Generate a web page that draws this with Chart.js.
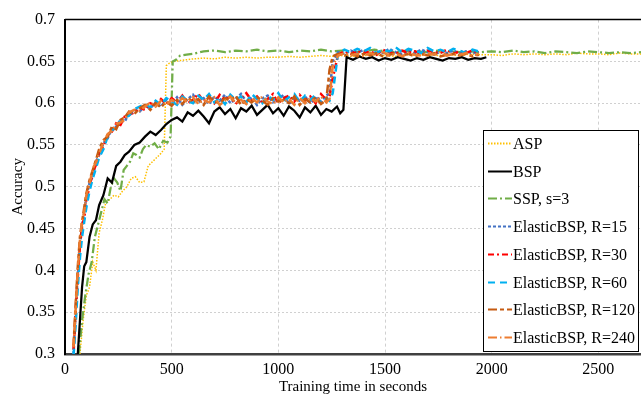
<!DOCTYPE html>
<html>
<head>
<meta charset="utf-8">
<title>Accuracy vs training time</title>
<script src="https://cdn.jsdelivr.net/npm/chart.js@4.4.1/dist/chart.umd.min.js"></script>
<style>
    html, body { margin: 0; padding: 0; background: #fff; }
    #chart { display: block; }
</style>
</head>
<body>
<canvas id="chart" width="641" height="396"></canvas>
<script>
// Time points (seconds) for each group of runs
var elasticTime = [40, 50, 60, 70, 80, 90, 100, 115, 130, 145,
    160, 180, 200, 220, 240, 260, 280, 300, 325, 350,
    375, 400, 425, 450, 475, 500, 525, 550, 575, 600,
    625, 650, 675, 700, 725, 750, 775, 800, 825, 850,
    875, 900, 925, 950, 975, 1000, 1025, 1050, 1075, 1100,
    1125, 1150, 1175, 1200, 1225, 1240, 1255, 1280, 1310, 1340,
    1370, 1400, 1430, 1460, 1490, 1520, 1550, 1580, 1610, 1640,
    1670, 1700, 1730, 1760, 1790, 1820, 1850, 1880, 1910, 1940];

var bspTime = [60, 70, 80, 90, 100, 115, 130, 145, 160, 180,
    200, 220, 240, 260, 280, 300, 325, 350, 375, 400,
    425, 450, 475, 500, 525, 550, 575, 600, 625, 650,
    675, 700, 725, 750, 775, 800, 825, 850, 875, 900,
    925, 950, 975, 1000, 1025, 1050, 1075, 1100, 1125, 1150,
    1175, 1200, 1225, 1250, 1275, 1290, 1305, 1320, 1350, 1380,
    1410, 1440, 1470, 1500, 1530, 1560, 1590, 1620, 1650, 1680,
    1710, 1740, 1770, 1800, 1830, 1860, 1890, 1920, 1950, 1975];

var aspTime = [70, 85, 100, 115, 130, 145, 160, 175, 190, 210,
    230, 250, 270, 290, 310, 330, 350, 370, 390, 410,
    430, 450, 465, 475, 490, 510, 540, 570, 600, 650,
    700, 750, 800, 850, 900, 950, 1000, 1050, 1100, 1150,
    1200, 1250, 1300, 1350, 1400, 1450, 1500, 1550, 1600, 1650,
    1700, 1750, 1800, 1850, 1900, 1950, 2000, 2050, 2100, 2150,
    2200, 2250, 2300, 2350, 2400, 2450, 2500, 2550, 2600, 2650, 2700];

var sspTime = [65, 80, 95, 110, 125, 140, 155, 170, 185, 200,
    215, 230, 245, 260, 275, 290, 305, 320, 335, 350,
    365, 380, 400, 420, 440, 460, 480, 495, 505, 520,
    540, 570, 600, 650, 700, 750, 800, 850, 900, 950,
    1000, 1050, 1100, 1150, 1200, 1250, 1300, 1350, 1400, 1450,
    1500, 1550, 1600, 1650, 1700, 1750, 1800, 1850, 1900, 1950,
    2000, 2050, 2100, 2150, 2200, 2250, 2300, 2350, 2400, 2450,
    2500, 2550, 2600, 2650, 2700];

// Accuracy values
var aspAcc = [0.300, 0.340, 0.370, 0.380, 0.410, 0.400, 0.445, 0.460, 0.480, 0.485,
    0.490, 0.488, 0.495, 0.500, 0.510, 0.512, 0.505, 0.506, 0.525, 0.530,
    0.535, 0.540, 0.545, 0.645, 0.648, 0.650, 0.651, 0.652, 0.653, 0.654,
    0.653, 0.655, 0.654, 0.655, 0.654, 0.655, 0.655, 0.656, 0.655, 0.656,
    0.657, 0.656, 0.657, 0.656, 0.657, 0.658, 0.657, 0.656, 0.658, 0.657,
    0.658, 0.657, 0.658, 0.657, 0.659, 0.658, 0.658, 0.657, 0.659, 0.658,
    0.659, 0.658, 0.659, 0.658, 0.660, 0.659, 0.659, 0.658, 0.660, 0.659, 0.659];

var bspAcc = [0.300, 0.340, 0.380, 0.405, 0.410, 0.440, 0.455, 0.460, 0.478, 0.490,
    0.510, 0.505, 0.525, 0.530, 0.538, 0.542, 0.550, 0.553, 0.560, 0.566,
    0.562, 0.568, 0.575, 0.580, 0.583, 0.578, 0.589, 0.585, 0.591, 0.584,
    0.576, 0.590, 0.595, 0.587, 0.593, 0.582, 0.594, 0.590, 0.597, 0.586,
    0.592, 0.598, 0.588, 0.594, 0.585, 0.596, 0.591, 0.583, 0.595, 0.589,
    0.597, 0.586, 0.593, 0.590, 0.596, 0.588, 0.592, 0.655, 0.652, 0.656,
    0.653, 0.655, 0.651, 0.654, 0.652, 0.655, 0.653, 0.651, 0.654, 0.652,
    0.655, 0.653, 0.651, 0.654, 0.653, 0.655, 0.652, 0.654, 0.653, 0.655];

var sspAcc = [0.300, 0.340, 0.370, 0.395, 0.410, 0.440, 0.455, 0.470, 0.485, 0.480,
    0.500, 0.510, 0.505, 0.495, 0.520, 0.525, 0.530, 0.540, 0.538, 0.535,
    0.545, 0.550, 0.548, 0.552, 0.545, 0.555, 0.553, 0.560, 0.650, 0.652,
    0.657, 0.658, 0.659, 0.662, 0.663, 0.661, 0.663, 0.662, 0.664, 0.662,
    0.663, 0.661, 0.663, 0.662, 0.664, 0.662, 0.663, 0.661, 0.662, 0.664,
    0.662, 0.661, 0.663, 0.662, 0.661, 0.663, 0.662, 0.661, 0.662, 0.661,
    0.662, 0.661, 0.663, 0.661, 0.662, 0.660, 0.662, 0.661, 0.660, 0.662,
    0.661, 0.660, 0.661, 0.660, 0.661];

var r15Acc = [0.300, 0.350, 0.395, 0.430, 0.452, 0.470, 0.488, 0.505, 0.512, 0.530,
    0.538, 0.552, 0.558, 0.570, 0.572, 0.580, 0.578, 0.588, 0.592, 0.590,
    0.597, 0.594, 0.601, 0.596, 0.604, 0.600, 0.607, 0.598, 0.605, 0.610,
    0.601, 0.606, 0.599, 0.608, 0.603, 0.610, 0.600, 0.605, 0.611, 0.602,
    0.607, 0.598, 0.606, 0.609, 0.601, 0.605, 0.610, 0.599, 0.606, 0.603,
    0.608, 0.600, 0.606, 0.602, 0.609, 0.612, 0.650, 0.661, 0.659, 0.663,
    0.660, 0.664, 0.658, 0.662, 0.660, 0.665, 0.661, 0.659, 0.663, 0.660,
    0.664, 0.661, 0.658, 0.662, 0.660, 0.663, 0.659, 0.662, 0.660, 0.661];

var r30Acc = [0.305, 0.352, 0.392, 0.428, 0.455, 0.462, 0.485, 0.500, 0.518, 0.526,
    0.542, 0.548, 0.562, 0.566, 0.576, 0.574, 0.584, 0.586, 0.589, 0.595,
    0.592, 0.600, 0.597, 0.605, 0.599, 0.606, 0.601, 0.609, 0.600, 0.604,
    0.611, 0.602, 0.607, 0.600, 0.610, 0.604, 0.608, 0.599, 0.606, 0.612,
    0.603, 0.608, 0.601, 0.605, 0.611, 0.600, 0.606, 0.609, 0.602, 0.610,
    0.603, 0.608, 0.600, 0.611, 0.604, 0.607, 0.630, 0.658, 0.662, 0.659,
    0.663, 0.660, 0.662, 0.658, 0.664, 0.661, 0.659, 0.663, 0.660, 0.662,
    0.659, 0.663, 0.661, 0.660, 0.664, 0.659, 0.662, 0.660, 0.663, 0.660];

var r60Acc = [0.298, 0.335, 0.380, 0.415, 0.440, 0.458, 0.475, 0.495, 0.510, 0.522,
    0.535, 0.545, 0.560, 0.568, 0.570, 0.579, 0.583, 0.585, 0.593, 0.596,
    0.599, 0.595, 0.603, 0.598, 0.606, 0.602, 0.598, 0.608, 0.603, 0.600,
    0.609, 0.604, 0.611, 0.601, 0.606, 0.599, 0.610, 0.604, 0.608, 0.601,
    0.611, 0.605, 0.600, 0.609, 0.604, 0.612, 0.602, 0.607, 0.611, 0.601,
    0.609, 0.604, 0.610, 0.600, 0.606, 0.603, 0.612, 0.660, 0.664, 0.661,
    0.665, 0.662, 0.666, 0.660, 0.664, 0.662, 0.667, 0.661, 0.665, 0.663,
    0.660, 0.666, 0.662, 0.664, 0.661, 0.665, 0.663, 0.660, 0.664, 0.662];

var r120Acc = [0.310, 0.360, 0.405, 0.440, 0.458, 0.475, 0.492, 0.508, 0.520, 0.532,
    0.545, 0.556, 0.560, 0.572, 0.569, 0.580, 0.583, 0.590, 0.587, 0.594,
    0.598, 0.592, 0.600, 0.595, 0.602, 0.597, 0.604, 0.599, 0.607, 0.601,
    0.605, 0.598, 0.608, 0.602, 0.600, 0.606, 0.603, 0.609, 0.598, 0.605,
    0.601, 0.607, 0.603, 0.598, 0.606, 0.602, 0.604, 0.600, 0.608, 0.598,
    0.605, 0.601, 0.607, 0.599, 0.604, 0.640, 0.656, 0.659, 0.657, 0.660,
    0.656, 0.659, 0.657, 0.660, 0.656, 0.658, 0.660, 0.657, 0.659, 0.656,
    0.659, 0.657, 0.660, 0.656, 0.658, 0.659, 0.657, 0.659, 0.656, 0.658];

var r240Acc = [0.308, 0.355, 0.400, 0.436, 0.460, 0.470, 0.490, 0.503, 0.522, 0.529,
    0.540, 0.553, 0.563, 0.567, 0.575, 0.577, 0.580, 0.589, 0.592, 0.591,
    0.596, 0.601, 0.596, 0.603, 0.598, 0.604, 0.600, 0.606, 0.601, 0.607,
    0.599, 0.604, 0.601, 0.607, 0.598, 0.603, 0.608, 0.600, 0.604, 0.599,
    0.606, 0.601, 0.608, 0.602, 0.599, 0.607, 0.601, 0.605, 0.598, 0.606,
    0.600, 0.606, 0.602, 0.608, 0.601, 0.605, 0.645, 0.657, 0.660, 0.657,
    0.659, 0.656, 0.660, 0.658, 0.661, 0.657, 0.659, 0.656, 0.660, 0.658,
    0.657, 0.660, 0.658, 0.661, 0.657, 0.659, 0.658, 0.660, 0.657, 0.659];

// Tick labels for both axes
var xTicks = [0, 500, 1000, 1500, 2000, 2500];
var yTicks = [0.3, 0.35, 0.4, 0.45, 0.5, 0.55, 0.6, 0.65, 0.7];

// Pair a time array with an accuracy array for a linear x axis
function points(xs, ys) {
    return xs.map(function(x, i) { return { x: x, y: ys[i] }; });
}

function series(label, xs, ys, color, dash, width, order) {
    return {
        label: label,
        data: points(xs, ys),
        borderColor: color,
        backgroundColor: color,
        borderDash: dash,
        borderWidth: width,
        pointRadius: 0,
        tension: 0,
        fill: false,
        order: order
    };
}

var serif = "'Liberation Serif', 'Times New Roman', serif";
Chart.defaults.font.family = serif;
Chart.defaults.color = '#000';

// Legend box drawn inside the plot area, bottom right
var boxLegend = {
    id: 'boxLegend',
    afterDraw: function(chart) {
        var ctx = chart.ctx;
        var area = chart.chartArea;
        var w = 155, h = 221;
        var left = area.right - w - 3;
        var top = area.bottom - h - 3;

        ctx.save();
        // top frame line of the plot
        ctx.strokeStyle = '#000';
        ctx.lineWidth = 1.5;
        ctx.beginPath();
        ctx.moveTo(area.left, area.top);
        ctx.lineTo(area.right, area.top);
        ctx.stroke();

        ctx.fillStyle = '#fff';
        ctx.fillRect(left, top, w, h);
        ctx.lineWidth = 1;
        ctx.strokeRect(left + 0.5, top + 0.5, w, h);

        ctx.font = '16px ' + serif;
        ctx.textBaseline = 'middle';
        chart.data.datasets.forEach(function(ds, i) {
            var y = Math.round(top + 13 + i * 27.7) + 0.5;
            ctx.strokeStyle = ds.borderColor;
            ctx.lineWidth = 2;
            ctx.setLineDash(ds.borderDash || []);
            ctx.beginPath();
            ctx.moveTo(left + 5, y);
            ctx.lineTo(left + 29, y);
            ctx.stroke();
            ctx.setLineDash([]);
            ctx.fillStyle = '#000';
            ctx.fillText(ds.label, left + 30, y + 1);
        });
        ctx.restore();
    }
};

var ctx = document.getElementById('chart').getContext('2d');
var chart = new Chart(ctx, {
    type: 'line',
    data: {
        datasets: [
            series('ASP', aspTime, aspAcc, '#FFC000', [1.5, 1.5], 1.5, 8),
            series('BSP', bspTime, bspAcc, '#000000', [], 2.25, 6),
            series('SSP, s=3', sspTime, sspAcc, '#70AD47', [9, 3, 2, 3], 2.25, 7),
            series('ElasticBSP, R=15', elasticTime, r15Acc, '#4472C4', [3, 2], 2.5, 5),
            series('ElasticBSP, R=30', elasticTime, r30Acc, '#FF0000', [6, 3, 2, 3], 2.5, 4),
            series('ElasticBSP, R=60', elasticTime, r60Acc, '#00B0F0', [7, 5], 2.5, 3),
            series('ElasticBSP, R=120', elasticTime, r120Acc, '#C55A11', [9, 3, 4, 3], 2.5, 2),
            series('ElasticBSP, R=240', elasticTime, r240Acc, '#ED7D31', [9, 3, 1.5, 3], 2.5, 1)
        ]
    },
    options: {
        responsive: false,
        animation: false,
        layout: { padding: { top: 12, right: 0, bottom: 0, left: 0 } },
        plugins: {
            legend: { display: false },
            tooltip: { enabled: false }
        },
        scales: {
            x: {
                type: 'linear',
                min: 0,
                max: 2700,
                afterFit: function(scale) { scale.height = 42; },
                afterBuildTicks: function(scale) {
                    scale.ticks = xTicks.map(function(v) { return { value: v }; });
                },
                ticks: {
                    padding: 6,
                    maxRotation: 0,
                    font: { size: 16 },
                    color: '#000',
                    callback: function(v) { return String(v); }
                },
                grid: {
                    drawTicks: false,
                    color: function(c) { return c.tick && c.tick.value === 0 ? 'rgba(0,0,0,0)' : '#D0D0D0'; }
                },
                border: { display: true, color: '#404040', width: 2.5, dash: [3, 3] },
                title: {
                    display: true,
                    text: 'Training time in seconds',
                    font: { size: 15 },
                    color: '#000',
                    padding: { top: 0, bottom: 0 }
                }
            },
            y: {
                min: 0.3,
                max: 0.7,
                afterFit: function(scale) { scale.width = 65; },
                afterBuildTicks: function(scale) {
                    scale.ticks = yTicks.map(function(v) { return { value: v }; });
                },
                ticks: {
                    padding: 10,
                    font: { size: 16 },
                    color: '#000',
                    callback: function(v) { return String(Number(v.toFixed(2))); }
                },
                grid: {
                    drawTicks: false,
                    color: function(c) {
                        if (!c.tick) return '#D0D0D0';
                        return (c.tick.value <= 0.3 || c.tick.value >= 0.7) ? 'rgba(0,0,0,0)' : '#D0D0D0';
                    }
                },
                border: { display: true, color: '#000', width: 2, dash: [2, 2] },
                title: {
                    display: true,
                    text: 'Accuracy',
                    font: { size: 15 },
                    color: '#000',
                    padding: { top: 9, bottom: 4 }
                }
            }
        }
    },
    plugins: [boxLegend]
});
</script>
</body>
</html>
